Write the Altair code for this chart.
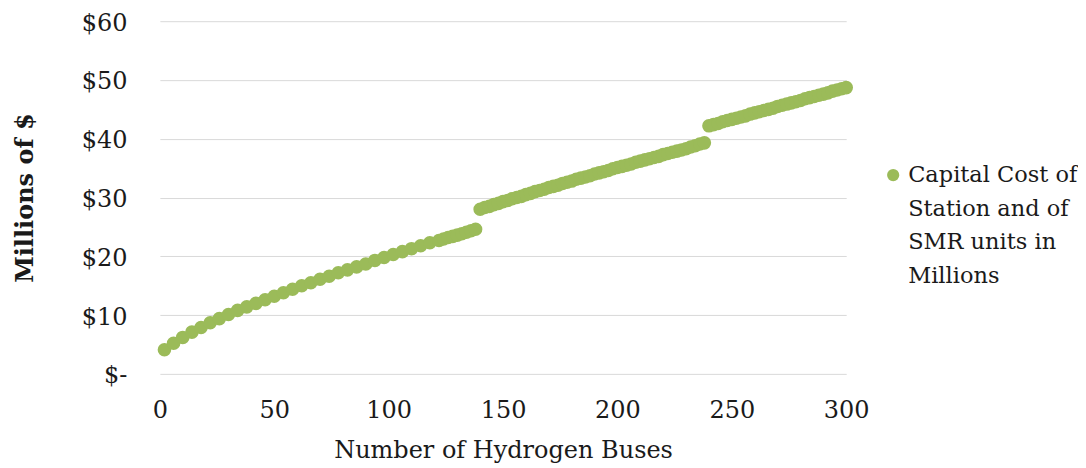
import altair as alt
import pandas as pd

# Segment 1 (every 4 buses, then every 2)
buses_1 = [2, 6, 10, 14, 18, 22, 26, 30, 34, 38, 42, 46, 50, 54, 58, 62, 66, 70, 74, 78,
           82, 86, 90, 94, 98, 102, 106, 110, 114, 118, 122, 124, 126, 128, 130, 132, 134, 136, 138]
cost_1 = [4.1, 5.2, 6.2, 7.1, 7.9, 8.7, 9.4, 10.1, 10.8, 11.4, 12.0, 12.6, 13.2, 13.8, 14.4,
          15.0, 15.5, 16.1, 16.6, 17.2, 17.7, 18.2, 18.7, 19.3, 19.8, 20.3, 20.8, 21.3, 21.8,
          22.3, 22.7, 22.95, 23.2, 23.4, 23.6, 23.85, 24.1, 24.35, 24.6]

buses_2 = [140, 142, 144, 146, 148, 150, 152, 154, 156, 158, 160, 162, 164, 166, 168, 170,
           172, 174, 176, 178, 180, 182, 184, 186, 188, 190, 192, 194, 196, 198, 200, 202,
           204, 206, 208, 210, 212, 214, 216, 218, 220, 222, 224, 226, 228, 230, 232, 234,
           236, 238]
cost_2 = [28.0, 28.3, 28.5, 28.8, 29.0, 29.3, 29.5, 29.8, 30.0, 30.2, 30.5, 30.7, 31.0, 31.2,
          31.4, 31.7, 31.9, 32.1, 32.4, 32.6, 32.8, 33.1, 33.3, 33.5, 33.7, 34.0, 34.2, 34.4,
          34.6, 34.9, 35.1, 35.3, 35.5, 35.7, 36.0, 36.2, 36.4, 36.6, 36.8, 37.0, 37.3, 37.5,
          37.7, 37.9, 38.1, 38.3, 38.6, 38.8, 39.1, 39.3]

buses_3 = [240, 242, 244, 246, 248, 250, 252, 254, 256, 258, 260, 262, 264, 266, 268, 270,
           272, 274, 276, 278, 280, 282, 284, 286, 288, 290, 292, 294, 296, 298, 300]
cost_3 = [42.2, 42.4, 42.6, 42.9, 43.1, 43.3, 43.5, 43.7, 43.9, 44.2, 44.4, 44.6, 44.8, 45.0,
          45.2, 45.5, 45.7, 45.9, 46.1, 46.3, 46.5, 46.8, 47.0, 47.2, 47.4, 47.6, 47.8, 48.1,
          48.3, 48.5, 48.7]

series_name = "Capital Cost of Station and of SMR units in Millions"
legend_lines = ["Capital Cost of", "Station and of", "SMR units in", "Millions"]

x_ticks = [0, 50, 100, 150, 200, 250, 300]
y_ticks = [0, 10, 20, 30, 40, 50, 60]

GREEN = "#9bbb59"
FONT = "DejaVu Serif"
TEXT = "#1a1a1a"

df = pd.DataFrame({
    "buses": buses_1 + buses_2 + buses_3,
    "cost": cost_1 + cost_2 + cost_3,
})
df["series"] = series_name

points = alt.Chart(df).mark_circle(size=185, opacity=1, color=GREEN).encode(
    x=alt.X("buses:Q",
            scale=alt.Scale(domain=[0, 300], nice=False),
            axis=alt.Axis(values=x_ticks, title="Number of Hydrogen Buses",
                          grid=False, domain=False, ticks=False, labelFlush=False,
                          labelFont=FONT, labelFontSize=24, labelColor=TEXT,
                          labelPadding=25, titleFont=FONT, titleFontSize=24,
                          titleFontWeight="normal", titleColor=TEXT, titlePadding=16)),
    y=alt.Y("cost:Q",
            scale=alt.Scale(domain=[0, 60], nice=False),
            axis=alt.Axis(values=y_ticks, title="Millions of $",
                          labelExpr="datum.value == 0 ? '$-\u00a0\u00a0' : '$' + datum.value",
                          grid=True, gridColor="#d9d9d9", gridWidth=1,
                          domain=False, ticks=False, labelFlush=False, labelOffset=2,
                          labelFont=FONT, labelFontSize=24, labelColor=TEXT,
                          labelPadding=33, titleFont=FONT, titleFontSize=24,
                          titleFontWeight="bold", titleColor=TEXT, titlePadding=44)),
)

legend_dot = alt.Chart(pd.DataFrame({"s": [series_name]})).mark_circle(
    size=150, opacity=1, color=GREEN
).encode(x=alt.value(734), y=alt.value(154))

legend_text = alt.Chart(pd.DataFrame({"s": [series_name]})).mark_text(
    align="left", baseline="top", font=FONT, fontSize=22.5, color=TEXT, lineHeight=33.6
).encode(x=alt.value(749), y=alt.value(143), text=alt.value(legend_lines))

chart = alt.layer(points, legend_dot, legend_text).properties(
    width=687, height=353,
    padding={"left": 5, "top": 3, "right": 0, "bottom": 0},
).configure_view(stroke=None)

chart.save("out.html", embed_options={"renderer": "svg", "actions": False})
